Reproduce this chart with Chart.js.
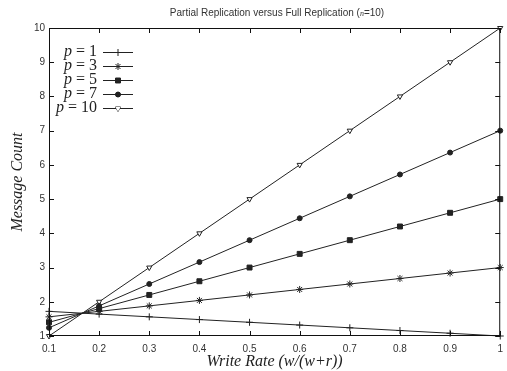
<!DOCTYPE html>
<html>
<head>
<meta charset="utf-8">
<script src="https://cdn.jsdelivr.net/npm/chart.js@4/dist/chart.umd.min.js"></script>
<style>
  body { margin: 0; background: #fff; overflow: hidden; }
  #wrap { width: 507px; height: 371px; overflow: hidden; }
</style>
</head>
<body>
<div id="wrap"><canvas id="chart" width="510" height="371"></canvas></div>
<script>
// write rate values (x) and message counts
const writeRates = [0.1, 0.2, 0.3, 0.4, 0.5, 0.6, 0.7, 0.8, 0.9, 1.0];
const xTickLabels = ['0.1', '0.2', '0.3', '0.4', '0.5', '0.6', '0.7', '0.8', '0.9', '1'];
const yTickValues = [1, 2, 3, 4, 5, 6, 7, 8, 9, 10];

const p1 = [1.72, 1.64, 1.56, 1.48, 1.40, 1.32, 1.24, 1.16, 1.08, 1.00];
const p3 = [1.56, 1.72, 1.88, 2.04, 2.20, 2.36, 2.52, 2.68, 2.84, 3.00];
const p5 = [1.40, 1.80, 2.20, 2.60, 3.00, 3.40, 3.80, 4.20, 4.60, 5.00];
const p7 = [1.24, 1.88, 2.52, 3.16, 3.80, 4.44, 5.08, 5.72, 6.36, 7.00];
const p10 = [1, 2, 3, 4, 5, 6, 7, 8, 9, 10];

const seriesLabels = ['1', '3', '5', '7', '10'];

const ink = '#222';
const styles = [
    { pointStyle: 'cross', radius: 3.5, rotation: 0, fill: ink },
    { pointStyle: 'star', radius: 3.5, rotation: 0, fill: ink },
    { pointStyle: 'rect', radius: 3.5, rotation: 0, fill: ink },
    { pointStyle: 'circle', radius: 2.5, rotation: 0, fill: ink },
    { pointStyle: 'triangle', radius: 3, rotation: 180, fill: '#fff' }
];

function toPoints(ys) {
    return ys.map((y, i) => ({ x: writeRates[i], y: y }));
}

const datasets = [p1, p3, p5, p7, p10].map((ys, i) => ({
    label: 'p = ' + seriesLabels[i],
    data: toPoints(ys),
    borderColor: ink,
    borderWidth: 1,
    backgroundColor: styles[i].fill,
    pointStyle: styles[i].pointStyle,
    pointRadius: styles[i].radius,
    pointRotation: styles[i].rotation,
    pointBorderColor: ink,
    pointBorderWidth: 1,
    tension: 0,
    clip: false
}));

// frame, inward ticks, title and legend in gnuplot style
const gnuplotDecor = {
    id: 'gnuplotDecor',
    afterDraw(chart) {
        const ctx = chart.ctx;
        const a = chart.chartArea;
        const xs = chart.scales.x, ys = chart.scales.y;
        ctx.save();
        ctx.strokeStyle = '#111';
        ctx.lineWidth = 1;
        ctx.strokeRect(a.left + 0.5, a.top + 0.5, a.right - a.left - 1, a.bottom - a.top - 1);
        const t = 5;
        ctx.beginPath();
        writeRates.forEach(v => {
            const px = Math.round(xs.getPixelForValue(v)) + 0.5;
            ctx.moveTo(px, a.bottom); ctx.lineTo(px, a.bottom - t);
            ctx.moveTo(px, a.top); ctx.lineTo(px, a.top + t);
        });
        yTickValues.forEach(v => {
            const py = Math.round(ys.getPixelForValue(v)) + 0.5;
            ctx.moveTo(a.left, py); ctx.lineTo(a.left + t, py);
            ctx.moveTo(a.right, py); ctx.lineTo(a.right - t, py);
        });
        ctx.stroke();

        // title with italic n
        ctx.fillStyle = '#333';
        ctx.textBaseline = 'middle';
        const t1 = 'Partial Replication versus Full Replication (';
        const t2 = 'n';
        const t3 = '=10)';
        const f1 = '10px "Liberation Sans", Arial, sans-serif';
        const f2 = 'italic 8px "Liberation Serif", serif';
        ctx.font = f1; const w1 = ctx.measureText(t1).width, w3 = ctx.measureText(t3).width;
        ctx.font = f2; const w2 = ctx.measureText(t2).width;
        let x0 = 277 - (w1 + w2 + w3) / 2;
        const ty = 13;
        ctx.textAlign = 'left';
        ctx.font = f1; ctx.fillText(t1, x0, ty); x0 += w1;
        ctx.font = f2; ctx.fillText(t2, x0, ty + 1); x0 += w2;
        ctx.font = f1; ctx.fillText(t3, x0, ty);

        // legend
        const rowY = [52, 66, 80, 94, 108];
        const textRight = 97;
        datasets.forEach((ds, i) => {
            const y = rowY[i];
            ctx.fillStyle = ink;
            ctx.textAlign = 'left';
            ctx.font = '16px "Liberation Serif", serif';
            const rest = ' = ' + seriesLabels[i];
            const wr = ctx.measureText(rest).width;
            ctx.font = 'italic 16px "Liberation Serif", serif';
            const wp = ctx.measureText('p').width;
            ctx.fillText('p', textRight - wr - wp, y);
            ctx.font = '16px "Liberation Serif", serif';
            ctx.fillText(rest, textRight - wr, y);
            ctx.strokeStyle = ink;
            ctx.beginPath();
            ctx.moveTo(103, y + 0.5); ctx.lineTo(133, y + 0.5);
            ctx.stroke();
            ctx.fillStyle = ds.backgroundColor;
            Chart.helpers.drawPoint(ctx, {
                pointStyle: ds.pointStyle, radius: ds.pointRadius,
                rotation: ds.pointRotation, borderWidth: 1
            }, 118, y + 0.5);
            ctx.fill();
        });
        ctx.restore();
    }
};

new Chart(document.getElementById('chart'), {
    type: 'line',
    data: { datasets: datasets },
    options: {
        responsive: false,
        animation: false,
        layout: { padding: { top: 28, right: 0, left: 0, bottom: 0 } },
        plugins: { legend: { display: false }, tooltip: { enabled: false } },
        scales: {
            x: {
                type: 'linear',
                min: 0.1, max: 1,
                afterBuildTicks: s => { s.ticks = writeRates.map(v => ({ value: v })); },
                afterFit: s => { s.height = 35; },
                grid: { display: false, drawTicks: false },
                border: { display: false },
                ticks: {
                    padding: 7,
                    color: '#333',
                    font: { family: '"Liberation Sans", Arial, sans-serif', size: 10 },
                    maxRotation: 0,
                    callback: (v, i) => xTickLabels[i]
                },
                title: {
                    display: true,
                    text: 'Write Rate (w/(w+r))',
                    color: '#222',
                    font: { family: '"Liberation Serif", serif', size: 16, style: 'italic' },
                    padding: { top: 0, bottom: 0 }
                }
            },
            y: {
                min: 1, max: 10,
                afterBuildTicks: s => { s.ticks = yTickValues.map(v => ({ value: v })); },
                afterFit: s => { s.width = 49; },
                grid: { display: false, drawTicks: false },
                border: { display: false },
                ticks: {
                    padding: 4,
                    color: '#333',
                    font: { family: '"Liberation Sans", Arial, sans-serif', size: 10 }
                },
                title: {
                    display: true,
                    text: 'Message Count',
                    color: '#222',
                    font: { family: '"Liberation Serif", serif', size: 16, style: 'italic' },
                    padding: { top: 8, bottom: 0 }
                }
            }
        }
    },
    plugins: [gnuplotDecor]
});
</script>
</body>
</html>
